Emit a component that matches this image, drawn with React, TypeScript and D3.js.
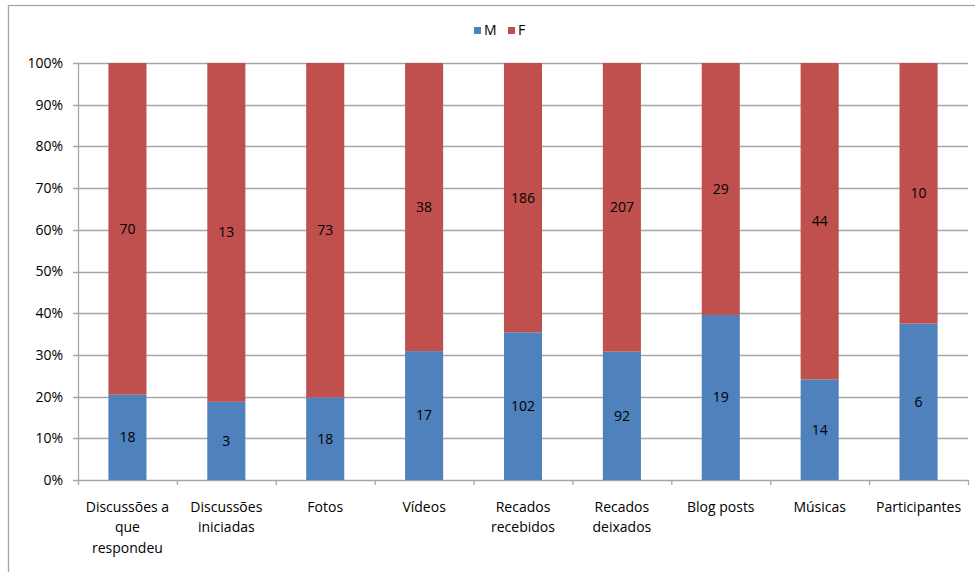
import React from "react";
import * as d3 from "d3";

const categories: string[][] = [
  ["Discussões a", "que", "respondeu"],
  ["Discussões", "iniciadas"],
  ["Fotos"],
  ["Vídeos"],
  ["Recados", "recebidos"],
  ["Recados", "deixados"],
  ["Blog posts"],
  ["Músicas"],
  ["Participantes"],
];
const mValues = [18, 3, 18, 17, 102, 92, 19, 14, 6];
const fValues = [70, 13, 73, 38, 186, 207, 29, 44, 10];
const yTicks = [0, 0.1, 0.2, 0.3, 0.4, 0.5, 0.6, 0.7, 0.8, 0.9, 1];
const seriesNames = ["M", "F"];
const colors = ["#4F81BD", "#C0504D"];

const W = 975;
const H = 572;
const left = 78;
const right = 968;
const top = 63;
const bottom = 480;
const font = "'Open Sans', sans-serif";
const fs = 14;

export default function App() {
  const x = d3
    .scaleBand<number>()
    .domain(categories.map((_, i) => i))
    .range([left, right])
    .paddingInner(0.615)
    .paddingOuter(0.3075);
  const xb = d3
    .scaleBand<number>()
    .domain(categories.map((_, i) => i))
    .range([left, right]);
  const y = d3.scaleLinear().domain([0, 1]).range([bottom, top]);
  const fmt = d3.format(".0%");

  const rows = categories.map((_, i) => ({ i, M: mValues[i], F: fValues[i] }));
  const stack = d3.stack<any>().keys(seriesNames).offset(d3.stackOffsetExpand);
  const series = stack(rows);

  return (
    <svg
      width={W}
      height={H}
      style={{ position: "absolute", left: 0, top: 0, background: "#fff" }}
      fontFamily={font}
    >
      <rect x={8.5} y={5.5} width={W + 10} height={H + 10} fill="none" stroke="#A6A6A6" strokeWidth={1.3} />
      {yTicks.map((t) => (
        <g key={t}>
          <line x1={left - 5} x2={right} y1={Math.round(y(t)) + 0.5} y2={Math.round(y(t)) + 0.5} stroke="#A6A6A6" strokeWidth={1.3} />
          <text x={63} y={y(t)} dy="0.35em" textAnchor="end" fontSize={fs} fill="#000">
            {fmt(t)}
          </text>
        </g>
      ))}
      <line x1={left + 0.5} x2={left + 0.5} y1={top} y2={bottom} stroke="#A6A6A6" strokeWidth={1.3} />
      {categories.map((_, i) => (
        <line key={i} x1={xb(i)! + 0.5} x2={xb(i)! + 0.5} y1={bottom} y2={bottom + 5} stroke="#A6A6A6" strokeWidth={1.3} />
      ))}
      <line x1={right + 0.5} x2={right + 0.5} y1={bottom} y2={bottom + 5} stroke="#A6A6A6" strokeWidth={1.3} />
      {series.map((s, si) => (
        <g key={s.key} fill={colors[si]}>
          {s.map((d, i) => (
            <rect key={i} x={x(i)} y={y(d[1])} width={x.bandwidth()} height={y(d[0]) - y(d[1])} />
          ))}
        </g>
      ))}
      {series.map((s, si) => (
        <g key={"l" + s.key}>
          {s.map((d, i) => (
            <text
              key={i}
              x={x(i)! + x.bandwidth() / 2}
              y={(y(d[0]) + y(d[1])) / 2}
              dy="0.35em"
              textAnchor="middle"
              fontSize={fs}
              fill="#000"
            >
              {si === 0 ? mValues[i] : fValues[i]}
            </text>
          ))}
        </g>
      ))}
      {categories.map((lines, i) => (
        <text key={i} x={xb(i)! + xb.bandwidth() / 2} y={507} textAnchor="middle" fontSize={fs} fill="#000">
          {lines.map((ln, j) => (
            <tspan key={j} x={xb(i)! + xb.bandwidth() / 2} y={507 + j * 20.5} dy="0.35em">
              {ln}
            </tspan>
          ))}
        </text>
      ))}
      {seriesNames.map((n, i) => (
        <g key={n} transform={`translate(${474 + i * 34},27)`}>
          <rect width={7} height={7} fill={colors[i]} />
          <text x={10} y={3.5} dy="0.35em" fontSize={fs} fill="#000">
            {n}
          </text>
        </g>
      ))}
    </svg>
  );
}
